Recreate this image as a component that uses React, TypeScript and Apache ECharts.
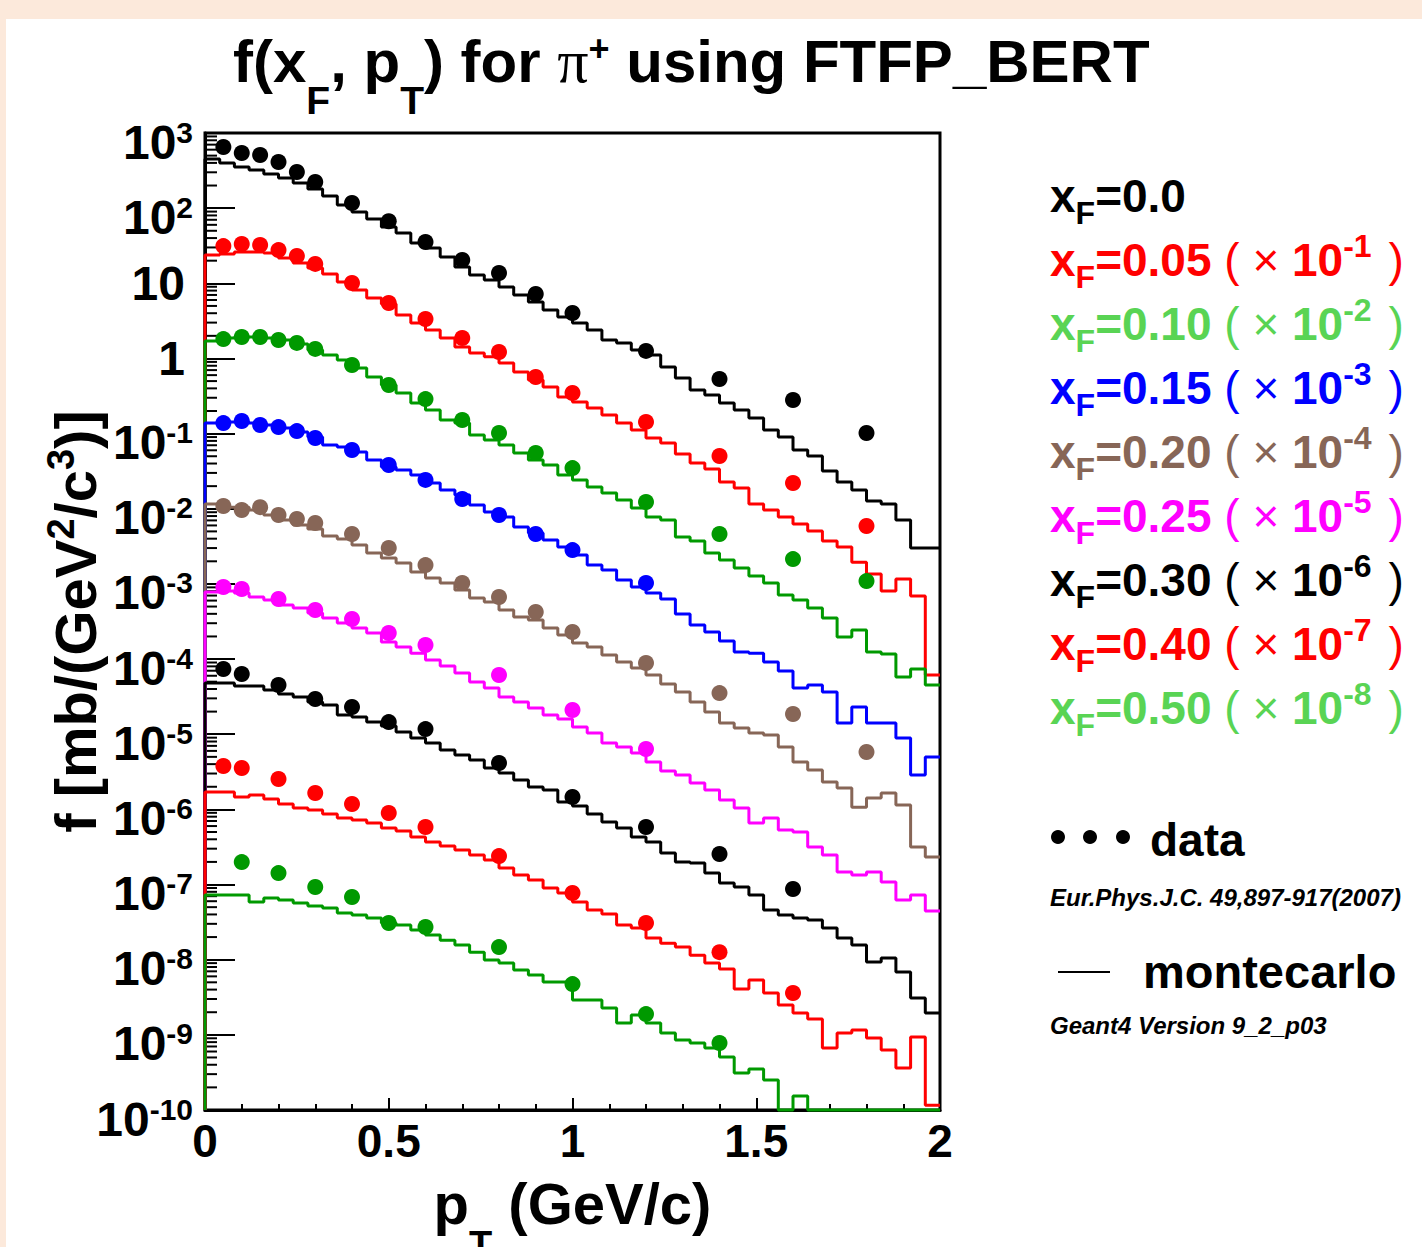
import React, { useEffect, useRef } from "react";
import * as echarts from "echarts";

const FONT = "'Liberation Sans', Arial, Helvetica, sans-serif";
const SERIF = "'Liberation Serif', 'Times New Roman', serif";
const PAGE_BG = "#fce9db";
const OFFSET_X = 6;
const OFFSET_Y = 19;
const CHART_W = 1416;
const CHART_H = 1228;

const Y_MIN = 1e-10;
const Y_MAX = 1e3;
const X_MIN = 0;
const X_MAX = 2;
const BIN_WIDTH = 0.04;

const XF_VALUES = ["0.0", "0.05", "0.10", "0.15", "0.20", "0.25", "0.30", "0.40", "0.50"];
const SCALE_EXP = ["", "-1", "-2", "-3", "-4", "-5", "-6", "-7", "-8"];
const LINE_COLORS = ["#000000", "#ff0000", "#009900", "#0000ff", "#876657", "#ff00ff", "#000000", "#ff0000", "#009900"];
const LEGEND_COLORS = ["#000000", "#ff0000", "#59d454", "#0000ff", "#876657", "#ff00ff", "#000000", "#ff0000", "#59d454"];

// measured pT points (GeV/c)
const PT_STD = [0.05, 0.1, 0.15, 0.2, 0.25, 0.3, 0.4, 0.5, 0.6, 0.7, 0.8, 0.9, 1.0, 1.2, 1.4, 1.6, 1.8];
const PT_XF015 = [0.05, 0.1, 0.15, 0.2, 0.25, 0.3, 0.4, 0.5, 0.6, 0.7, 0.8, 0.9, 1.0, 1.2];
const PT_XF025 = [0.05, 0.1, 0.2, 0.3, 0.4, 0.5, 0.6, 0.8, 1.0, 1.2];
const PT_XF030 = [0.05, 0.1, 0.2, 0.3, 0.4, 0.5, 0.6, 0.8, 1.0, 1.2, 1.4, 1.6];
const PT_XF040 = [0.05, 0.1, 0.2, 0.3, 0.4, 0.5, 0.6, 0.8, 1.0, 1.2, 1.4, 1.6];
const PT_XF050 = [0.1, 0.2, 0.3, 0.4, 0.5, 0.6, 0.8, 1.0, 1.2, 1.4];

// data (already multiplied by the legend scale factors, as drawn)
const DATA_XF000 = [652, 542, 510, 411, 303, 223, 117, 67, 35.5, 20.4, 13.7, 7.2, 4.03, 1.26, 0.533, 0.28, 0.102];
const DATA_XF005 = [31.3, 33.3, 32.4, 27.7, 23.1, 18.1, 10.1, 5.47, 3.35, 1.87, 1.22, 0.566, 0.347, 0.143, 0.0504, 0.022, 0.00589];
const DATA_XF010 = [1.81, 1.93, 1.93, 1.76, 1.61, 1.34, 0.818, 0.443, 0.288, 0.152, 0.102, 0.0552, 0.0348, 0.0123, 0.00461, 0.00214, 0.00109];
const DATA_XF015 = [0.138, 0.147, 0.13, 0.122, 0.108, 0.0873, 0.0605, 0.0382, 0.0242, 0.0135, 0.00826, 0.00461, 0.00282, 0.00103];
const DATA_XF020 = [0.0109, 0.00962, 0.0105, 0.00826, 0.00731, 0.00646, 0.00461, 0.00301, 0.00178, 0.00103, 0.00067, 0.000423, 0.000229, 8.87e-5, 3.53e-5, 1.86e-5, 5.8e-6];
const DATA_XF025 = [0.00091, 0.000855, 0.00063, 0.00045, 0.000341, 0.000222, 0.000154, 6.14e-5, 2.1e-5, 6.35e-6];
const DATA_XF030 = [7.38e-5, 6.33e-5, 4.52e-5, 2.94e-5, 2.3e-5, 1.45e-5, 1.17e-5, 4.14e-6, 1.46e-6, 5.82e-7, 2.55e-7, 8.71e-8];
const DATA_XF040 = [3.78e-6, 3.55e-6, 2.54e-6, 1.65e-6, 1.18e-6, 8.94e-7, 5.82e-7, 2.39e-7, 7.71e-8, 3.08e-8, 1.26e-8, 3.6e-9];
const DATA_XF050 = [1.99e-7, 1.42e-7, 9.27e-8, 6.82e-8, 3.08e-8, 2.72e-8, 1.47e-8, 4.74e-9, 1.89e-9, 7.78e-10];

// Monte Carlo histograms: 50 bins of 0.04 GeV/c from 0 to 2
const MC_XF000 = [451, 399, 353, 322, 285, 252, 216, 180, 145, 110, 89, 72, 56, 46.7, 34.4, 29.5, 22.4, 16.5, 12.9, 11.1, 8.93, 6.99, 5.64, 4.41, 3.56, 2.96, 2.39, 1.76, 1.61, 1.3, 1.11, 0.769, 0.549, 0.38, 0.326, 0.255, 0.206, 0.161, 0.112, 0.09, 0.0605, 0.0504, 0.0318, 0.0227, 0.0178, 0.0127, 0.0116, 0.00708, 0.00301, 0.00301];
const MC_XF005 = [23.8, 24.5, 26.1, 26.1, 25.3, 21.7, 18.6, 16.0, 13.3, 10.4, 8.14, 6.37, 5.3, 3.79, 2.96, 2.39, 1.87, 1.42, 1.18, 1.05, 0.869, 0.66, 0.517, 0.417, 0.307, 0.263, 0.219, 0.177, 0.138, 0.112, 0.0873, 0.075, 0.0536, 0.0406, 0.0338, 0.0227, 0.0189, 0.0116, 0.00962, 0.00776, 0.00627, 0.00506, 0.00372, 0.0031, 0.00195, 0.00136, 0.000805, 0.00116, 0.00069, 6.14e-5];
const MC_XF010 = [1.71, 1.87, 1.93, 1.93, 1.87, 1.76, 1.56, 1.3, 1.11, 0.953, 0.746, 0.566, 0.443, 0.347, 0.255, 0.206, 0.152, 0.138, 0.0957, 0.0822, 0.0705, 0.0552, 0.0446, 0.0382, 0.0281, 0.0242, 0.0195, 0.0162, 0.0131, 0.0102, 0.00776, 0.00708, 0.00421, 0.00372, 0.00258, 0.00208, 0.00163, 0.00127, 0.00103, 0.000711, 0.000611, 0.000478, 0.000352, 0.000196, 0.000244, 0.000124, 0.000117, 5.77e-5, 7.38e-5, 4.52e-5];
const MC_XF015 = [0.138, 0.143, 0.143, 0.138, 0.13, 0.119, 0.105, 0.0902, 0.0705, 0.0664, 0.0569, 0.0446, 0.036, 0.0328, 0.0281, 0.022, 0.0178, 0.0152, 0.0112, 0.00906, 0.00776, 0.00571, 0.00475, 0.00384, 0.0031, 0.00243, 0.00178, 0.00153, 0.00113, 0.00091, 0.000757, 0.00063, 0.000397, 0.000284, 0.000229, 0.000174, 0.000124, 0.00012, 9.14e-5, 6.93e-5, 4.12e-5, 4.52e-5, 3.64e-5, 1.41e-5, 2.3e-5, 1.41e-5, 1.41e-5, 8.89e-6, 2.86e-6, 4.98e-6];
const MC_XF020 = [0.0116, 0.0105, 0.0105, 0.00962, 0.00826, 0.00708, 0.00608, 0.00538, 0.00434, 0.00396, 0.0033, 0.00258, 0.00221, 0.0019, 0.00144, 0.0012, 0.00103, 0.00083, 0.000649, 0.000574, 0.00045, 0.000362, 0.00033, 0.000259, 0.000209, 0.000164, 0.000145, 0.000113, 9.14e-5, 7.6e-5, 6.14e-5, 4.66e-5, 3.64e-5, 2.68e-5, 1.97e-5, 1.41e-5, 1.21e-5, 1.04e-5, 9.75e-6, 6.76e-6, 4.27e-6, 3.34e-6, 2.31e-6, 1.92e-6, 1.07e-6, 1.42e-6, 1.65e-6, 1.14e-6, 3.16e-7, 2.32e-7];
const MC_XF025 = [0.00078, 0.000805, 0.000757, 0.00067, 0.000611, 0.000524, 0.000478, 0.00041, 0.000352, 0.000302, 0.000259, 0.000222, 0.000169, 0.000145, 0.00012, 9.71e-5, 8.07e-5, 6.52e-5, 4.95e-5, 4.12e-5, 3.13e-5, 2.68e-5, 2.23e-5, 1.8e-5, 1.59e-5, 1.25e-5, 1.04e-5, 7.64e-6, 6.76e-6, 5.62e-6, 4.27e-6, 3.24e-6, 2.86e-6, 2.24e-6, 1.81e-6, 1.33e-6, 1.04e-6, 6.58e-7, 7.67e-7, 5.31e-7, 4.99e-7, 3.16e-7, 2.47e-7, 1.47e-7, 1.34e-7, 1.47e-7, 1.08e-7, 6.22e-8, 7.25e-8, 4.44e-8];
const MC_XF030 = [4.8e-5, 4.8e-5, 4.38e-5, 4.38e-5, 3.87e-5, 3.43e-5, 3.13e-5, 2.68e-5, 2.44e-5, 1.8e-5, 1.69e-5, 1.45e-5, 1.29e-5, 1.07e-5, 8.89e-6, 7.64e-6, 6.17e-6, 5.28e-6, 4.54e-6, 3.55e-6, 3.05e-6, 2.46e-6, 1.98e-6, 1.81e-6, 1.25e-6, 1.11e-6, 8.67e-7, 6.79e-7, 5.65e-7, 4.29e-7, 3.67e-7, 2.62e-7, 1.99e-7, 1.93e-7, 1.42e-7, 1.05e-7, 9.27e-8, 7.25e-8, 4.58e-8, 3.93e-8, 3.58e-8, 3.37e-8, 2.64e-8, 1.94e-8, 1.57e-8, 9.29e-9, 1.05e-8, 6.86e-9, 3.09e-9, 1.95e-9];
const MC_XF040 = [1.7e-6, 1.7e-6, 1.46e-6, 1.55e-6, 1.37e-6, 1.18e-6, 1.04e-6, 9.8e-7, 8.67e-7, 7.67e-7, 7.21e-7, 6.58e-7, 5.65e-7, 5.15e-7, 4.29e-7, 3.67e-7, 3.25e-7, 2.88e-7, 2.47e-7, 2.12e-7, 1.66e-7, 1.34e-7, 1.15e-7, 8.98e-8, 7.71e-8, 5.85e-8, 4.58e-8, 4.05e-8, 2.89e-8, 2.64e-8, 1.94e-8, 1.66e-8, 1.47e-8, 1.15e-8, 9.02e-9, 7.51e-9, 4.07e-9, 5.36e-9, 3.6e-9, 2.49e-9, 1.95e-9, 1.62e-9, 6.67e-10, 1.06e-9, 1.16e-9, 9.06e-10, 6.28e-10, 3.61e-10, 9.35e-10, 1.16e-10];
const MC_XF050 = [7.25e-8, 7.25e-8, 7.25e-8, 5.85e-8, 6.61e-8, 6.22e-8, 5.68e-8, 5.18e-8, 4.86e-8, 4.18e-8, 3.93e-8, 3.58e-8, 3.08e-8, 2.89e-8, 2.48e-8, 2.13e-8, 1.82e-8, 1.57e-8, 1.26e-8, 9.88e-9, 9.02e-9, 7.28e-9, 6.25e-9, 5.04e-9, 5.04e-9, 2.9e-9, 2.9e-9, 2.28e-9, 1.44e-9, 1.83e-9, 1.44e-9, 1.06e-9, 8.53e-10, 7.78e-10, 6.67e-10, 5.06e-10, 3.1e-10, 3.51e-10, 2.5e-10, 0, 1.53e-10, 0, 0, 0, 0, 0, 0, 0, 0, 0];

const DATA_PT = [PT_STD, PT_STD, PT_STD, PT_XF015, PT_STD, PT_XF025, PT_XF030, PT_XF040, PT_XF050];
const DATA_F = [DATA_XF000, DATA_XF005, DATA_XF010, DATA_XF015, DATA_XF020, DATA_XF025, DATA_XF030, DATA_XF040, DATA_XF050];
const MC = [MC_XF000, MC_XF005, MC_XF010, MC_XF015, MC_XF020, MC_XF025, MC_XF030, MC_XF040, MC_XF050];

// y minor tick values (2..9 x 10^n)
const MINOR_Y_TICKS: number[] = [];
for (let e = -10; e < 3; e++) {
  for (let m = 2; m <= 9; m++) MINOR_Y_TICKS.push(m * Math.pow(10, e));
}

function histPoints(values: number[]) {
  const pts: number[][] = [[X_MIN, Y_MIN]];
  values.forEach((v, k) => {
    const y = Math.max(v, Y_MIN);
    pts.push([k * BIN_WIDTH, y], [(k + 1) * BIN_WIDTH, y]);
  });
  return pts;
}

function legendLine(i: number) {
  let s = `{b|x}{sub|F}{b|=${XF_VALUES[i]}}`;
  if (SCALE_EXP[i]) s += `{n| ( \u00d7 }{b|10}{sup|${SCALE_EXP[i]}}{n| )}`;
  return s;
}

function legendRich(color: string) {
  const L = 80;
  return {
    b: { fontFamily: FONT, fontWeight: "bold", fontSize: 46, color, lineHeight: L, height: 46, verticalAlign: "top" },
    n: { fontFamily: FONT, fontWeight: "normal", fontSize: 46, color, lineHeight: L, height: 46, verticalAlign: "top" },
    sub: { fontFamily: FONT, fontWeight: "bold", fontSize: 32, color, lineHeight: L, height: 80, verticalAlign: "top" },
    sup: { fontFamily: FONT, fontWeight: "bold", fontSize: 32, color, lineHeight: L, height: 17, verticalAlign: "top", padding: [0, 4, 0, 0] },
  };
}

function buildOption() {
  const titles: any[] = [
    {
      left: 227,
      top: 12,
      padding: 0,
      text: "{b|f(x}{sub|F}{b|, p}{sub|T}{b|) for }{pi|\u03c0}{sup|+}{b| using FTFP_BERT}",
      textStyle: {
        rich: {
          b: { fontFamily: FONT, fontWeight: "bold", fontSize: 60, color: "#000", lineHeight: 136, height: 60, verticalAlign: "top" },
          sub: { fontFamily: FONT, fontWeight: "bold", fontSize: 39, color: "#000", lineHeight: 136, height: 138, verticalAlign: "top" },
          pi: { fontFamily: SERIF, fontWeight: "normal", fontSize: 62, color: "#000", lineHeight: 136, height: 60, verticalAlign: "top" },
          sup: { fontFamily: FONT, fontWeight: "bold", fontSize: 36, color: "#000", lineHeight: 136, height: 34, verticalAlign: "top" },
        },
      },
    },
  ];
  XF_VALUES.forEach((_, i) => {
    titles.push({
      left: 1044,
      top: 154 + 64 * i,
      padding: 0,
      text: legendLine(i),
      textStyle: { rich: legendRich(LEGEND_COLORS[i]) },
    });
  });
  titles.push(
    { left: 1144, top: 798, padding: 0, text: "data", textStyle: { fontFamily: FONT, fontWeight: "bold", fontSize: 46, lineHeight: 46, color: "#000" } },
    { left: 1044, top: 866, padding: 0, text: "Eur.Phys.J.C. 49,897-917(2007)", textStyle: { fontFamily: FONT, fontWeight: "bold", fontStyle: "italic", fontSize: 24, lineHeight: 24, color: "#000" } },
    { left: 1137, top: 929, padding: 0, text: "montecarlo", textStyle: { fontFamily: FONT, fontWeight: "bold", fontSize: 47, lineHeight: 46, color: "#000" } },
    { left: 1044, top: 994, padding: 0, text: "Geant4 Version 9_2_p03", textStyle: { fontFamily: FONT, fontWeight: "bold", fontStyle: "italic", fontSize: 24, lineHeight: 24, color: "#000" } }
  );

  const series: any[] = [];
  MC.forEach((vals, i) => {
    series.push({
      type: "line",
      name: `mc ${XF_VALUES[i]}`,
      data: histPoints(vals),
      showSymbol: false,
      symbol: "none",
      clip: false,
      silent: true,
      z: 2,
      lineStyle: { color: LINE_COLORS[i], width: 3 },
    });
  });
  DATA_F.forEach((vals, i) => {
    series.push({
      type: "scatter",
      name: `data ${XF_VALUES[i]}`,
      data: vals.map((v, j) => [DATA_PT[i][j], v]),
      symbol: "circle",
      symbolSize: 16,
      silent: true,
      z: 4,
      itemStyle: { color: LINE_COLORS[i], opacity: 1 },
    });
  });
  series.push({
    type: "custom",
    name: "minor y ticks",
    data: MINOR_Y_TICKS.map((v) => [X_MIN, v]),
    encode: { x: 0, y: 1 },
    clip: false,
    silent: true,
    z: 1,
    renderItem: (params: any, api: any) => {
      const p = api.coord([api.value(0), api.value(1)]);
      return {
        type: "line",
        shape: { x1: p[0], y1: p[1], x2: p[0] + 12, y2: p[1] },
        style: { stroke: "#000", lineWidth: 2 },
      };
    },
  });

  return {
    animation: false,
    backgroundColor: "#ffffff",
    title: titles,
    grid: {
      left: 199,
      top: 114,
      width: 735,
      height: 977,
      show: true,
      borderColor: "#000",
      borderWidth: 3,
      backgroundColor: "transparent",
      containLabel: false,
      outerBoundsMode: "none",
    },
    xAxis: {
      type: "value",
      min: X_MIN,
      max: X_MAX,
      interval: 0.5,
      axisLine: { show: true, onZero: false, lineStyle: { color: "#000", width: 3 } },
      axisTick: { show: true, inside: true, length: 12, lineStyle: { color: "#000", width: 2 } },
      minorTick: { show: true, splitNumber: 5, length: 6, lineStyle: { color: "#000", width: 2 } },
      splitLine: { show: false },
      minorSplitLine: { show: false },
      axisLabel: {
        margin: 8,
        fontFamily: FONT,
        fontWeight: "bold",
        fontSize: 46,
        color: "#000",
        showMinLabel: true,
        showMaxLabel: true,
        formatter: (v: number) => String(v),
      },
      name: "{b|p}{sub|T}{b| (GeV/c)}",
      nameLocation: "middle",
      nameGap: 64,
      nameMoveOverlap: false,
      nameTextStyle: {
        rich: {
          b: { fontFamily: FONT, fontWeight: "bold", fontSize: 58, color: "#000", lineHeight: 142, height: 58, verticalAlign: "top" },
          sub: { fontFamily: FONT, fontWeight: "bold", fontSize: 38, color: "#000", lineHeight: 142, height: 142, verticalAlign: "top" },
        },
      },
    },
    yAxis: {
      type: "log",
      logBase: 10,
      min: Y_MIN,
      max: Y_MAX,
      interval: 1,
      splitNumber: 13,
      axisLine: { show: true, onZero: false, lineStyle: { color: "#000", width: 3 } },
      axisTick: { show: true, inside: true, length: 30, interval: 0, lineStyle: { color: "#000", width: 2 } },
      minorTick: { show: false },
      splitLine: { show: false },
      axisLabel: {
        margin: 12,
        interval: 0,
        showMinLabel: true,
        showMaxLabel: true,
        hideOverlap: false,
        color: "#000",
        formatter: (v: number) => {
          const e = Math.round(Math.log10(v));
          if (e === 0) return "{p|1}";
          if (e === 1) return "{p|10}";
          return `{b|10}{s|${e}}`;
        },
        rich: {
          b: { fontFamily: FONT, fontWeight: "bold", fontSize: 48, color: "#000", lineHeight: 60, height: 42, verticalAlign: "bottom" },
          s: { fontFamily: FONT, fontWeight: "bold", fontSize: 30, color: "#000", lineHeight: 60, height: 58, verticalAlign: "top" },
          p: { fontFamily: FONT, fontWeight: "bold", fontSize: 48, color: "#000", lineHeight: 48, padding: [0, 8, 0, 0] },
        },
      },
      name: "{b|f [mb/(GeV}{s|2}{b|/c}{s|3}{b|)]}",
      nameLocation: "middle",
      nameRotate: 90,
      nameGap: 85,
      nameMoveOverlap: false,
      nameTextStyle: {
        rich: {
          b: { fontFamily: FONT, fontWeight: "bold", fontSize: 58, color: "#000", lineHeight: 90, height: 90, verticalAlign: "top" },
          s: { fontFamily: FONT, fontWeight: "bold", fontSize: 38, color: "#000", lineHeight: 90, height: 62, verticalAlign: "top" },
        },
      },
    },
    graphic: [
      { type: "circle", shape: { cx: 1052, cy: 818, r: 7 }, style: { fill: "#000" } },
      { type: "circle", shape: { cx: 1084, cy: 818, r: 7 }, style: { fill: "#000" } },
      { type: "circle", shape: { cx: 1117, cy: 818, r: 7 }, style: { fill: "#000" } },
      { type: "line", shape: { x1: 1052, y1: 953, x2: 1104, y2: 953 }, style: { stroke: "#000", lineWidth: 2 } },
    ],
    series,
  };
}

export default function App() {
  const ref = useRef<HTMLDivElement>(null);
  useEffect(() => {
    if (!ref.current) return;
    const chart = echarts.init(ref.current, null, { renderer: "svg" });
    chart.setOption(buildOption() as any);
    return () => chart.dispose();
  }, []);
  return (
    <div style={{ position: "fixed", left: 0, top: 0, width: 1422, height: 1247, background: PAGE_BG, overflow: "hidden" }}>
      <div
        ref={ref}
        style={{ position: "absolute", left: OFFSET_X, top: OFFSET_Y, width: CHART_W, height: CHART_H, background: "#fff" }}
      />
    </div>
  );
}
